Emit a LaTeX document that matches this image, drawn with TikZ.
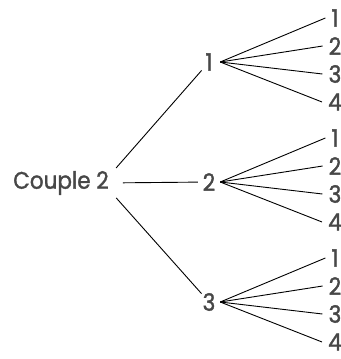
\documentclass[tikz,border=0pt]{standalone}
\usepackage{fontspec}
\setmainfont{Poppins}[FakeStretch=0.9, FakeBold=1.4]
\usetikzlibrary{calc}
\tikzset{
  lbl/.style={text=black!72, inner sep=0pt, font=\fontsize{24}{28}\selectfont},
  midnode/.style={lbl, circle, minimum size=22bp},
  leafnode/.style={lbl, inner xsep=6bp},
  branch/.style={line width=0.9bp},
}

\begin{document}
\begin{tikzpicture}[x=1bp,y=1bp]
  \useasboundingbox (0,0) rectangle (341,-359);
  % root
  \node[lbl] (root) at (61,-183) {Couple 2};
  \coordinate (hub) at ($(root.east)+(-6,0)$);
  % second level and leaves
  \foreach \i/\y in {1/-62,2/-182,3/-302} {
    \node[midnode] (m\i) at (209,\y) {\i};
    \draw[branch, shorten <=20bp] (hub) -- (m\i);
    \foreach \j/\dy in {1/44,2/16,3/-12,4/-40} {
      \node[leafnode] (l\i\j) at (335,\y+\dy) {\j};
      \draw[branch] (m\i.east) -- (l\i\j.west);
    }
  }
\end{tikzpicture}
\end{document}
